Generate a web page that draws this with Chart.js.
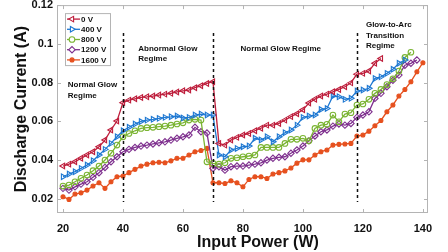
<!DOCTYPE html>
<html>
<head>
<meta charset="utf-8">
<script src="https://cdn.jsdelivr.net/npm/chart.js@4.4.1/dist/chart.umd.min.js"></script>
<style>
  html, body { margin: 0; padding: 0; background: #fff; overflow: hidden; }
</style>
</head>
<body>
<canvas id="grafico" width="448" height="252"></canvas>
<script>
// ===== dados =====
const potencia = [20, 22, 24, 26, 28, 30, 32, 34, 36, 38, 40, 42, 44, 46, 48, 50, 52, 54, 56, 58,
  60, 62, 64, 66, 68, 70, 72, 74, 76, 78, 80, 82, 84, 86, 88, 90, 92, 94, 96, 98,
  100, 102, 104, 106, 108, 110, 112, 114, 116, 118, 120, 122, 124, 126, 128, 130, 132, 134, 136, 138, 140];

const serie0V = [.0370, .0380, .0392, .0410, .0427, .0444, .0470, .0504, .0556, .0602,
  .0697, .0710, .0717, .0724, .0727, .0731, .0736, .0741, .0745, .0752,
  .0758, .0762, .0774, .0784, .0796, .0805,
  .0487, .0478, .0504, .0518, .0530, .0538, .0552, .0565, .0581, .0581,
  .0590, .0607, .0625, .0640, .0660, .0695, .0715, .0731, .0741, .0753,
  .0765, .0779, .0799, .0844, .0848, .0860, .0900, .0925];

const serie400V = [.0315, .0329, .0341, .0358, .0375, .0397, .0427, .0456, .0487, .0521,
  .0552, .0570, .0587, .0600, .0607, .0611, .0616, .0621, .0624, .0628,
  .0618, .0621, .0633, .0638, .0633, .0633,
  .0427, .0418, .0453, .0461, .0470, .0473, .0513, .0504, .0521, .0495,
  .0521, .0542, .0556, .0581, .0621, .0628, .0633, .0662, .0667, .0731,
  .0727, .0714, .0720, .0757, .0762, .0771, .0822, .0830,
  .0848, .0869, .0900, .0917];

const serie800V = [.0267, .0272, .0289, .0307, .0324, .0346, .0370, .0401, .0436, .0478,
  .0521, .0538, .0552, .0564, .0568, .0570, .0573, .0576, .0581, .0587,
  .0593, .0607, .0611, .0607, .0392, .0384,
  .0380, .0387, .0410, .0413, .0418, .0422, .0427, .0466, .0466, .0466,
  .0466, .0487, .0508, .0508, .0513, .0500, .0564, .0581, .0585, .0633,
  .0598, .0638, .0645, .0685, .0690, .0714, .0745, .0765,
  .0790, .0820, .0860, .0930, .0957];

const serie1200V = [.0255, .0246, .0263, .0277, .0289, .0312, .0336, .0363, .0392, .0418,
  .0444, .0456, .0466, .0473, .0478, .0484, .0490, .0495, .0504, .0513,
  .0521, .0530, .0570, .0547, .0540, .0358,
  .0367, .0349, .0367, .0370, .0370, .0375, .0380, .0387, .0401, .0410,
  .0415, .0418, .0436, .0453, .0473, .0500, .0525, .0547, .0556, .0576,
  .0587, .0581, .0590, .0621, .0633, .0650, .0719, .0745,
  .0779, .0813, .0839, .0890, .0900, .0917];

const serie1600V = [.0212, .0198, .0226, .0232, .0246, .0267, .0284, .0255, .0289, .0315,
  .0319, .0336, .0353, .0370, .0380, .0387, .0390, .0387, .0397, .0410,
  .0410, .0427, .0444, .0450, .0461, .0284,
  .0284, .0280, .0294, .0284, .0263, .0301, .0315, .0315, .0306, .0329,
  .0336, .0345, .0360, .0385, .0402, .0402, .0427, .0444, .0453, .0478,
  .0482, .0484, .0487, .0525, .0530, .0550, .0578, .0605,
  .0650, .0685, .0731, .0765, .0805, .0856, .0903];

const rotulosSerie = ['0 V', '400 V', '800 V', '1200 V', '1600 V'];
const ticksX = [20, 40, 60, 80, 100, 120, 140];
const ticksY = [0.02, 0.04, 0.06, 0.08, 0.1, 0.12];
const linhasRegime = [40, 70, 118];

// textos das regiões (posição em coordenadas do gráfico)
const textosRegime = [
  { x: 21.6, y: 0.0788, linhas: ['Normal Glow', 'Regime'] },
  { x: 45.1, y: 0.0977, linhas: ['Abnormal Glow', 'Regime'] },
  { x: 79.2, y: 0.0977, linhas: ['Normal Glow Regime'] },
  { x: 121.0, y: 0.1097, linhas: ['Glow-to-Arc', 'Transition', 'Regime'] }
];

const FONTE = "'Liberation Sans', Arial, sans-serif";
const CINZA = '#b4b4b4';

const estilos = [
  { cor: '#BE1E3C', ponto: 'triangle', rot: -90, raio: 3.2, cheio: false },
  { cor: '#1E78D2', ponto: 'triangle', rot: 90, raio: 3.2, cheio: false },
  { cor: '#7AB432', ponto: 'circle', rot: 0, raio: 2.8, cheio: false },
  { cor: '#7E2F8E', ponto: 'rectRot', rot: 0, raio: 3.2, cheio: false },
  { cor: '#E6501E', ponto: 'circle', rot: 0, raio: 2.0, cheio: true }
];

const pontos = vals => vals.map((v, i) => ({ x: potencia[i], y: v }));
const series = [serie0V, serie400V, serie800V, serie1200V, serie1600V];

const datasets = series.map((s, i) => {
  const e = estilos[i];
  return {
    label: rotulosSerie[i],
    data: pontos(s),
    borderColor: e.cor,
    borderWidth: 1.3,
    pointStyle: e.ponto,
    pointRotation: e.rot,
    pointRadius: e.raio,
    pointBorderWidth: 1.1,
    pointBorderColor: e.cor,
    pointBackgroundColor: e.cheio ? e.cor : 'rgba(0,0,0,0)',
    tension: 0
  };
});

// ===== moldura, linhas tracejadas, textos e legenda =====
const extras = {
  id: 'extras',
  afterDatasetsDraw(chart) {
    const { ctx, chartArea: a, scales: { x, y } } = chart;
    ctx.save();
    // linhas tracejadas das regiões
    ctx.strokeStyle = '#111';
    ctx.lineWidth = 1.5;
    ctx.setLineDash([3, 3]);
    linhasRegime.forEach(w => {
      const px = Math.round(x.getPixelForValue(w)) + 0.5;
      ctx.beginPath();
      ctx.moveTo(px, y.getPixelForValue(0.1056));
      ctx.lineTo(px, y.getPixelForValue(0.0185));
      ctx.stroke();
    });
    ctx.setLineDash([]);

    // caixa e ticks internos
    ctx.strokeStyle = CINZA;
    ctx.lineWidth = 1;
    ctx.strokeRect(a.left + 0.5, a.top + 0.5, a.width - 1, a.height - 1);
    ctx.beginPath();
    ticksX.forEach(t => {
      const px = Math.round(x.getPixelForValue(t)) + 0.5;
      ctx.moveTo(px, a.bottom); ctx.lineTo(px, a.bottom - 4);
      ctx.moveTo(px, a.top); ctx.lineTo(px, a.top + 4);
    });
    ticksY.forEach(t => {
      const py = Math.round(y.getPixelForValue(t)) + 0.5;
      ctx.moveTo(a.left, py); ctx.lineTo(a.left + 4, py);
      ctx.moveTo(a.right, py); ctx.lineTo(a.right - 4, py);
    });
    ctx.stroke();

    // textos das regiões
    ctx.fillStyle = '#111';
    ctx.font = 'bold 8px ' + FONTE;
    ctx.textAlign = 'left';
    ctx.textBaseline = 'middle';
    textosRegime.forEach(t => {
      const px = x.getPixelForValue(t.x);
      const py = y.getPixelForValue(t.y);
      t.linhas.forEach((l, k) => ctx.fillText(l, px, py + k * 10.5));
    });

    // legenda
    const lx = a.left + 8, ly = a.top + 8;
    ctx.fillStyle = '#fff';
    ctx.fillRect(lx, ly, 45, 52);
    ctx.strokeStyle = CINZA;
    ctx.strokeRect(lx + 0.5, ly + 0.5, 45, 52);
    estilos.forEach((e, i) => {
      const cy = ly + 6 + i * 10.2;
      ctx.strokeStyle = e.cor;
      ctx.lineWidth = 1.3;
      ctx.beginPath();
      ctx.moveTo(lx + 2, cy); ctx.lineTo(lx + 15, cy);
      ctx.stroke();
      ctx.fillStyle = e.cheio ? e.cor : '#fff';
      ctx.lineWidth = 1.1;
      Chart.helpers.drawPoint(ctx, { pointStyle: e.ponto, rotation: e.rot, radius: e.raio, borderWidth: 1.1 }, lx + 7, cy);
      ctx.fillStyle = '#111';
      ctx.font = 'bold 8px ' + FONTE;
      ctx.textAlign = 'left';
      ctx.textBaseline = 'middle';
      ctx.fillText(rotulosSerie[i], lx + 16, cy + 0.5);
    });

    // título do eixo x
    ctx.font = 'bold 16px ' + FONTE;
    ctx.textAlign = 'center';
    ctx.fillText('Input Power (W)', 258, 243);
    ctx.restore();
  }
};

const ctx = document.getElementById('grafico').getContext('2d');
new Chart(ctx, {
  type: 'line',
  data: { datasets },
  options: {
    responsive: false,
    devicePixelRatio: 1,
    animation: false,
    layout: { padding: { left: 0, right: 20, top: 5, bottom: 0 } },
    plugins: { legend: { display: false }, tooltip: { enabled: false } },
    scales: {
      x: {
        type: 'linear',
        min: 18, max: 141.7,
        afterBuildTicks: s => { s.ticks = ticksX.map(v => ({ value: v })); },
        afterFit: s => { s.height = 39; s.paddingLeft = 0; s.paddingRight = 0; },
        grid: { display: false, drawTicks: false },
        border: { display: false },
        ticks: { color: '#111', font: { family: FONTE, size: 11, weight: 'bold' }, padding: 9, maxRotation: 0 }
      },
      y: {
        type: 'linear',
        min: 0.0128, max: 0.12,
        afterBuildTicks: s => { s.ticks = ticksY.map(v => ({ value: v })); },
        afterFit: s => { s.width = 57; s.paddingTop = 0; s.paddingBottom = 0; },
        grid: { display: false, drawTicks: false },
        border: { display: false },
        ticks: {
          color: '#111', font: { family: FONTE, size: 11, weight: 'bold' }, padding: 4,
          callback: v => String(Math.round(v * 100) / 100)
        },
        title: {
          display: true, text: 'Discharge Current (A)', color: '#111',
          font: { family: FONTE, size: 16, weight: 'bold' }, padding: { top: 12, bottom: 0 }
        }
      }
    }
  },
  plugins: [extras]
});
</script>
</body>
</html>
